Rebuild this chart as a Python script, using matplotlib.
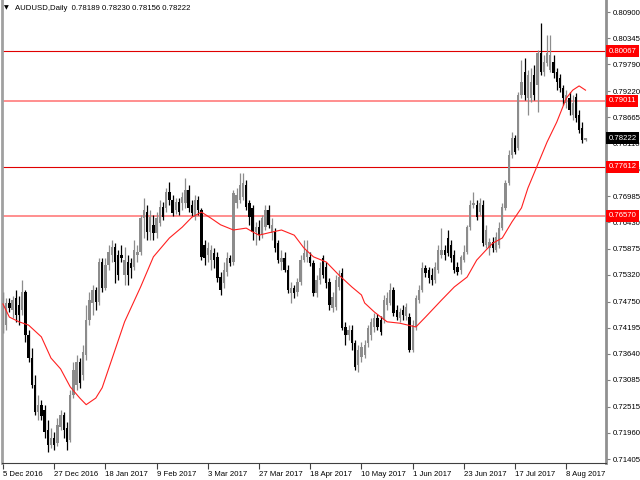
import numpy as np
import matplotlib
matplotlib.use("Agg")
from matplotlib import pyplot as plt

plt.rcParams['font.family'] = ['Liberation Sans', 'DejaVu Sans']

symbol = "AUDUSD,Daily"
last_quote = [0.78189, 0.78230, 0.78156, 0.78222]  # O H L C of the current bar

# daily bars, 5 Dec 2016 .. 16 Aug 2017 (weekdays)
opens = [
    .7478, .7425, .7472, .7457, .7483, .7468, .7457, .7495, .7404, .7355,
    .7298, .7240, .7255, .7245, .7202, .7170, .7185, .7175, .7209, .7234,
    .7206, .7181, .7277, .7298, .7347, .7319, .7362, .7436, .7472, .7500,
    .7474, .7559, .7504, .7553, .7574, .7591, .7574, .7574, .7531, .7559,
    .7557, .7548, .7574, .7580, .7652, .7665, .7623, .7638, .7621, .7642,
    .7676, .7674, .7708, .7691, .7670, .7686, .7684, .7684, .7712, .7680,
    .7655, .7691, .7670, .7595, .7574, .7563, .7578, .7570, .7527, .7514,
    .7538, .7568, .7559, .7684, .7691, .7697, .7723, .7684, .7674, .7623,
    .7633, .7616, .7633, .7670, .7621, .7623, .7599, .7559, .7568, .7542,
    .7493, .7504, .7495, .7517, .7563, .7570, .7570, .7557, .7493, .7521,
    .7568, .7548, .7517, .7461, .7463, .7506, .7536, .7421, .7404, .7415,
    .7387, .7340, .7357, .7362, .7387, .7404, .7421, .7440, .7436, .7436,
    .7468, .7472, .7500, .7457, .7440, .7457, .7444, .7442, .7372, .7421,
    .7478, .7500, .7546, .7542, .7531, .7521, .7542, .7574, .7585, .7610,
    .7595, .7574, .7548, .7542, .7563, .7580, .7633, .7680, .7680, .7665,
    .7680, .7595, .7589, .7602, .7585, .7595, .7631, .7674, .7727, .7786,
    .7822, .7801, .7914, .7963, .7907, .7907, .7956, .7935, .8003, .7963,
    .7982, .7967, .7984, .7963, .7950, .7929, .7897, .7907, .7871, .7910,
    .7871, .7844, last_quote[0],
]
highs = [
    .7495, .7483, .7483, .7487, .7500, .7487, .7521, .7500, .7415, .7376,
    .7319, .7277, .7266, .7255, .7223, .7206, .7198, .7228, .7245, .7240,
    .7219, .7287, .7347, .7362, .7355, .7383, .7468, .7495, .7510, .7506,
    .7568, .7568, .7568, .7595, .7606, .7599, .7585, .7595, .7591, .7574,
    .7568, .7606, .7595, .7659, .7695, .7680, .7670, .7659, .7665, .7691,
    .7686, .7716, .7729, .7701, .7695, .7695, .7708, .7737, .7723, .7691,
    .7701, .7699, .7674, .7606, .7602, .7595, .7589, .7580, .7538, .7559,
    .7580, .7574, .7712, .7716, .7748, .7748, .7733, .7691, .7680, .7644,
    .7648, .7659, .7680, .7680, .7652, .7631, .7606, .7585, .7580, .7553,
    .7517, .7510, .7525, .7574, .7606, .7606, .7580, .7563, .7531, .7559,
    .7574, .7559, .7525, .7495, .7531, .7542, .7546, .7432, .7425, .7425,
    .7393, .7383, .7389, .7393, .7425, .7440, .7451, .7449, .7444, .7489,
    .7495, .7514, .7506, .7468, .7461, .7468, .7472, .7451, .7436, .7489,
    .7510, .7559, .7553, .7548, .7546, .7559, .7595, .7631, .7595, .7627,
    .7606, .7585, .7559, .7574, .7595, .7638, .7691, .7708, .7691, .7695,
    .7691, .7638, .7610, .7612, .7623, .7644, .7684, .7733, .7797, .7835,
    .7829, .7920, .7988, .7992, .7967, .7971, .7977, .8009, .8067, .7999,
    .8041, .8041, .7999, .7971, .7958, .7935, .7924, .7920, .7914, .7918,
    .7882, .7856, last_quote[1],
]
lows = [
    .7408, .7415, .7453, .7440, .7432, .7425, .7446, .7389, .7347, .7291,
    .7234, .7223, .7223, .7185, .7156, .7164, .7160, .7168, .7202, .7185,
    .7160, .7177, .7270, .7287, .7291, .7308, .7351, .7425, .7446, .7457,
    .7468, .7495, .7500, .7542, .7559, .7514, .7521, .7559, .7510, .7510,
    .7525, .7542, .7559, .7574, .7610, .7606, .7606, .7606, .7610, .7636,
    .7648, .7665, .7680, .7657, .7661, .7659, .7670, .7674, .7665, .7657,
    .7648, .7659, .7563, .7553, .7559, .7542, .7546, .7517, .7489, .7504,
    .7529, .7551, .7553, .7674, .7684, .7691, .7670, .7638, .7606, .7595,
    .7606, .7610, .7627, .7631, .7606, .7580, .7557, .7542, .7538, .7493,
    .7472, .7483, .7487, .7510, .7559, .7559, .7551, .7487, .7485, .7512,
    .7525, .7504, .7457, .7453, .7457, .7500, .7415, .7383, .7393, .7372,
    .7330, .7325, .7347, .7355, .7379, .7393, .7410, .7415, .7404, .7429,
    .7457, .7468, .7444, .7436, .7432, .7436, .7436, .7368, .7368, .7415,
    .7472, .7495, .7527, .7514, .7510, .7514, .7536, .7568, .7563, .7572,
    .7559, .7536, .7531, .7534, .7559, .7576, .7627, .7674, .7648, .7659,
    .7593, .7589, .7574, .7580, .7580, .7589, .7627, .7670, .7723, .7780,
    .7788, .7797, .7907, .7903, .7871, .7899, .7903, .7878, .7956, .7954,
    .7975, .7963, .7950, .7924, .7920, .7892, .7886, .7871, .7861, .7856,
    .7833, .7812, last_quote[2],
]
closes = [
    .7446, .7472, .7461, .7478, .7446, .7446, .7495, .7404, .7355, .7298,
    .7240, .7255, .7232, .7198, .7170, .7185, .7170, .7213, .7234, .7202,
    .7177, .7277, .7330, .7347, .7302, .7368, .7436, .7478, .7500, .7474,
    .7559, .7504, .7553, .7580, .7591, .7559, .7531, .7568, .7563, .7531,
    .7546, .7585, .7580, .7652, .7670, .7623, .7655, .7621, .7652, .7676,
    .7655, .7708, .7691, .7663, .7686, .7665, .7697, .7712, .7674, .7663,
    .7691, .7670, .7570, .7568, .7589, .7585, .7563, .7525, .7500, .7542,
    .7568, .7557, .7706, .7701, .7723, .7727, .7676, .7655, .7623, .7633,
    .7616, .7652, .7670, .7638, .7638, .7589, .7563, .7568, .7542, .7500,
    .7504, .7493, .7517, .7563, .7578, .7585, .7557, .7493, .7521, .7546,
    .7531, .7514, .7468, .7485, .7521, .7527, .7419, .7404, .7415, .7387,
    .7336, .7372, .7379, .7383, .7419, .7432, .7440, .7421, .7410, .7478,
    .7483, .7500, .7451, .7442, .7453, .7446, .7463, .7372, .7425, .7483,
    .7500, .7546, .7536, .7525, .7521, .7548, .7585, .7585, .7574, .7578,
    .7568, .7542, .7538, .7570, .7580, .7633, .7680, .7684, .7655, .7684,
    .7599, .7627, .7602, .7589, .7612, .7631, .7676, .7727, .7786, .7822,
    .7793, .7914, .7941, .7914, .7956, .7941, .7914, .8003, .7963, .7984,
    .8003, .7999, .7960, .7941, .7929, .7907, .7914, .7882, .7897, .7865,
    .7839, .7818, last_quote[3],
]

# moving average at these bars
ma_bars = [0, 2, 5, 8, 12, 15, 18, 21, 24, 26, 29, 31, 34, 38, 43, 47, 52, 56,
           59, 62, 65, 68, 72, 76, 78, 80, 83, 87, 91, 94, 97, 101, 105, 109,
           112, 113, 116, 120, 124, 129, 132, 137, 141, 145, 148, 151, 153,
           156, 159, 162, 164, 167, 170, 173, 176, 178, 180, 182]
ma_values = [.7470, .7442, .7432, .7425, .7400, .7355, .7332, .7294, .7270,
             .7256, .7270, .7292, .7352, .7432, .7506, .7570, .7610, .7633,
             .7654, .7665, .7652, .7638, .7627, .7631, .7623, .7616, .7621,
             .7627, .7616, .7589, .7570, .7559, .7531, .7506, .7489, .7472,
             .7453, .7432, .7429, .7421, .7442, .7478, .7506, .7527, .7563,
             .7585, .7599, .7610, .7644, .7674, .7716, .7765, .7814, .7856,
             .7907, .7924, .7933, .7924]

levels_dark = [0.80067, 0.77612]
levels_light = [0.79011, 0.76570]

price_ticks = [0.80900, 0.80345, 0.79790, 0.79220, 0.78665, 0.78110, 0.77555,
               0.76985, 0.76430, 0.75875, 0.75320, 0.74750, 0.74195, 0.73640,
               0.73085, 0.72515, 0.71960, 0.71405]
date_labels = ["5 Dec 2016", "27 Dec 2016", "18 Jan 2017", "9 Feb 2017",
               "3 Mar 2017", "27 Mar 2017", "18 Apr 2017", "10 May 2017",
               "1 Jun 2017", "23 Jun 2017", "17 Jul 2017", "8 Aug 2017"]

fig = plt.figure(figsize=(6.4, 4.8), dpi=100)
ax = fig.add_axes([2 / 640, 17 / 480, 604 / 640, 463 / 480])

o = np.array(opens)
h = np.array(highs)
l = np.array(lows)
c = np.array(closes)
x = np.arange(len(c))
up = c >= o
colors = np.where(up, '#8c8c8c', '#000000')

ax.vlines(x, l, h, colors=colors, linewidth=0.9, zorder=2)
ax.bar(x, np.maximum(np.abs(c - o), 0.00006), bottom=np.minimum(o, c),
       width=0.72, color=colors, linewidth=0, zorder=2)

ax.plot(ma_bars, ma_values, color='#ff2020', linewidth=0.8, zorder=3)

for lv in levels_dark:
    ax.axhline(lv, color='#e00000', linewidth=0.8, zorder=1)
for lv in levels_light:
    ax.axhline(lv, color='#ff7070', linewidth=1.1, zorder=1)

ax.set_xlim(-0.3, 188.4)
ax.set_ylim(0.71321, 0.81155)

ax.yaxis.tick_right()
ax.set_yticks(price_ticks)
ax.set_yticklabels(["%.5f" % t for t in price_ticks])
ax.tick_params(axis='y', direction='out', length=3, width=0.8, color='#808080',
               labelsize=5.6, pad=2)

ax.set_xticks(range(0, 16 * len(date_labels), 16))
ax.set_xticklabels(date_labels, ha='left')
ax.tick_params(axis='x', direction='out', length=4, width=0.8, color='#404040',
               labelsize=5.6, pad=1.5)

ax.spines['top'].set_visible(False)
ax.spines['left'].set_color('#a0a0a0')
ax.spines['left'].set_linewidth(2)
ax.spines['right'].set_color('#909090')
ax.spines['right'].set_linewidth(2)
ax.spines['bottom'].set_color('#404040')
ax.spines['bottom'].set_linewidth(0.8)

ytrans = ax.get_yaxis_transform()
for lv in levels_dark + levels_light:
    ax.text(1.004, lv, "%.5f" % lv, transform=ytrans, color='white',
            fontsize=5.6, va='center', ha='left', clip_on=False, zorder=5,
            bbox=dict(boxstyle='square,pad=0.3', fc='#ff0000', ec='none'))
ax.text(1.004, last_quote[3], "%.5f" % last_quote[3], transform=ytrans,
        color='white', fontsize=5.6, va='center', ha='left', clip_on=False,
        zorder=5, bbox=dict(boxstyle='square,pad=0.3', fc='black', ec='none'))

fig.text(4 / 640, 1 - 8 / 480, "\u25bc", fontsize=4.5, va='center',
         family='DejaVu Sans')
fig.text(15 / 640, 1 - 8 / 480,
         symbol + "  " + " ".join("%.5f" % v for v in last_quote),
         fontsize=5.6, va='center')

fig.savefig("out.png", dpi=100)
